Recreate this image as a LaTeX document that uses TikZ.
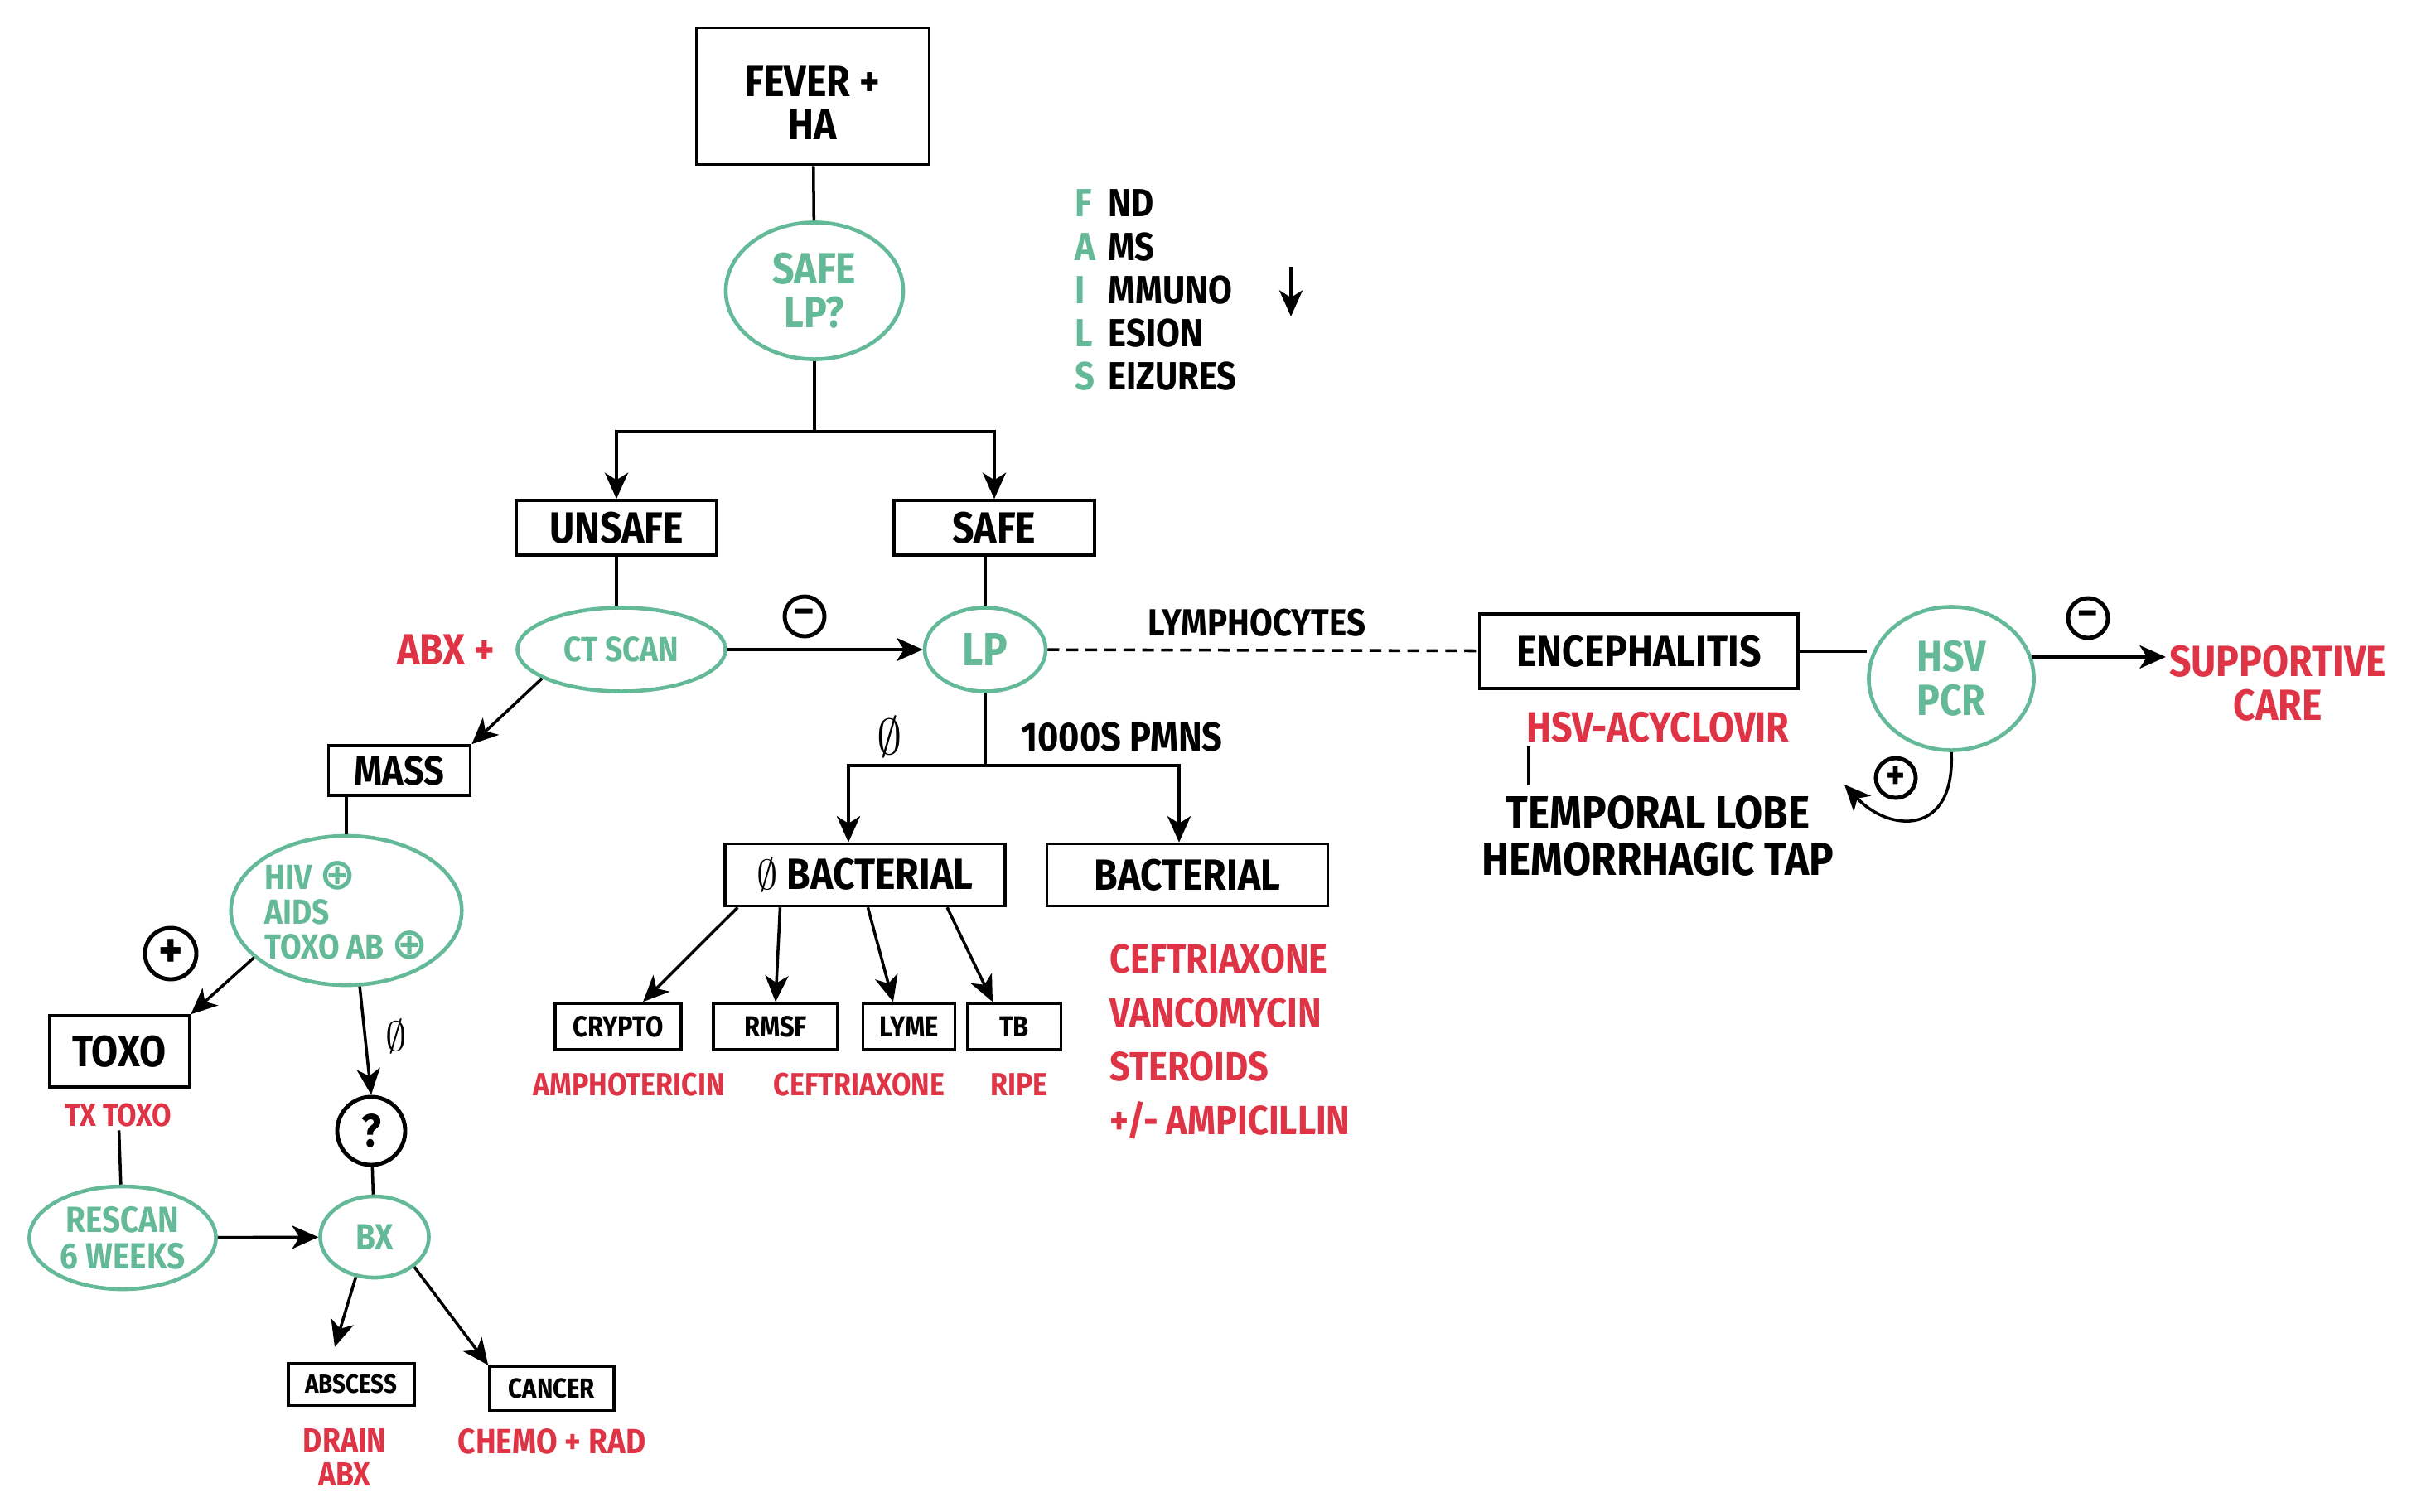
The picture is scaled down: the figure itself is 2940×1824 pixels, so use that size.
\documentclass[tikz,border=0pt]{standalone}
\usepackage{fontspec}
\setmainfont{Fira Sans}[FakeStretch=0.88]
\newfontfamily\symfont{DejaVu Sans}
\usepackage{tikz}
\usetikzlibrary{positioning}
\usetikzlibrary{calc}
\usetikzlibrary{arrows.meta}
\usetikzlibrary{shapes}
\definecolor{red}{RGB}{222,52,69}
\definecolor{green}{RGB}{100,186,152}
\newcommand{\lett}[1]{\makebox[0.4cm][l]{\textcolor{green}{#1}}}
\newcommand{\gplus}{{\symfont\fontsize{15}{12}\selectfont ⊕}}

\begin{document}
\begin{tikzpicture}[x=0.01cm, y=-0.01cm,
        >={Stealth[length=9pt, width=8pt, inset=2.5pt]},
        fs/.style={font=\fontsize{#1}{#1}\selectfont\bfseries},
        box/.style={draw, line width=1, align=center, inner sep=0pt},
        test/.style={draw=green, line width=1.3, ellipse, text=green, align=center, inner sep=0pt},
        sign/.style={draw, circle, line width=1.4, inner sep=0pt, fs=14},
        rx/.style={text=red, align=center, inner sep=1pt},
        conn/.style={line width=1}]
        \useasboundingbox (0,0) rectangle (2940,1824);
        % nodes %
        \node[box, fs=15, minimum width=2.81cm, minimum height=1.65cm] (fever) at (981,116) {\rule{0pt}{15pt}FEVER +\\HA};
        \node[test, fs=15, minimum width=2.14cm, minimum height=1.65cm] (safelp) at (983,351) {SAFE\\LP?};
        \node[anchor=west, inner sep=0pt, align=left, font=\fontsize{13.5}{14.8}\selectfont\bfseries] (fails) at (1297,350)
            {\lett{F}ND\\\lett{A}MS\\\lett{I}MMUNO\\\lett{L}ESION\\\lett{S}EIZURES};
        \node[box, fs=15, minimum width=2.42cm, minimum height=0.66cm] (unsafe) at (744,637) {UNSAFE};
        \node[box, fs=15, minimum width=2.42cm, minimum height=0.66cm] (safe) at (1200,637) {SAFE};
        \node[test, fs=12, minimum width=2.51cm, minimum height=1.01cm] (ctscan) at (750,784) {CT SCAN};
        \node[rx, fs=15] (abx) at (538,784) {ABX +};
        \node[sign, minimum size=0.48cm] (neg1) at (971,744) {--};
        \node[test, fs=16, minimum width=1.46cm, minimum height=1.01cm] (lp) at (1189,784) {LP};
        \node[fs=13] (lymph) at (1517,752) {LYMPHOCYTES};
        \node[box, fs=15, minimum width=3.84cm, minimum height=0.9cm] (enceph) at (1978,786) {ENCEPHALITIS};
        \node[test, fs=15, minimum width=1.99cm, minimum height=1.73cm] (hsvpcr) at (2355,819) {HSV\\PCR};
        \node[sign, minimum size=0.48cm] (neg2) at (2520,746) {--};
        \node[rx, fs=15] (support) at (2749,825) {SUPPORTIVE\\CARE};
        \node[rx, fs=14.5] (acyclovir) at (2001,878) {HSV-ACYCLOVIR};
        \node[fs=16, align=center] (temporal) at (2001,1009) {TEMPORAL LOBE\\HEMORRHAGIC TAP};
        \node[sign, minimum size=0.48cm] (pos2) at (2288,939) {+};
        \node[font=\fontsize{16}{16}\selectfont] (noresp) at (1074,889) {$\emptyset$};
        \node[fs=14] (pmns) at (1354,889) {1000S PMNS};
        \node[box, fs=15, minimum width=3.38cm, minimum height=0.75cm] (nobact) at (1044,1056) {$\emptyset$ BACTERIAL};
        \node[box, fs=15, minimum width=3.39cm, minimum height=0.75cm] (bact) at (1433,1056) {BACTERIAL};
        \node[box, fs=10, minimum width=1.52cm, minimum height=0.56cm] (crypto) at (746,1239) {CRYPTO};
        \node[box, fs=10, minimum width=1.5cm, minimum height=0.56cm] (rmsf) at (936,1239) {RMSF};
        \node[box, fs=10, minimum width=1.11cm, minimum height=0.56cm] (lyme) at (1097,1239) {LYME};
        \node[box, fs=10, minimum width=1.13cm, minimum height=0.56cm] (tb) at (1224,1239) {TB};
        \node[rx, fs=11] (amph) at (759,1309) {AMPHOTERICIN};
        \node[rx, fs=11] (ceft) at (1037,1309) {CEFTRIAXONE};
        \node[rx, fs=11] (ripe) at (1230,1309) {RIPE};
        \node[rx, anchor=west, align=left, inner sep=0pt, font=\fontsize{14}{18.5}\selectfont\bfseries] (bactrx) at (1339,1257)
            {CEFTRIAXONE\\VANCOMYCIN\\STEROIDS\\+/-{ }AMPICILLIN};
        \node[box, fs=14, minimum width=1.71cm, minimum height=0.6cm] (mass) at (482,930) {MASS};
        \node[test, fs=12, align=left, minimum width=2.74cm, minimum height=1.8cm] (hiv) at (418,1099)
            {HIV \gplus\\AIDS\\TOXO AB \gplus};
        \node[sign, fs=18, minimum size=0.62cm] (pos1) at (206,1151) {+};
        \node[box, fs=15, minimum width=1.69cm, minimum height=0.86cm] (toxo) at (144,1269) {TOXO};
        \node[rx, fs=11] (txtoxo) at (143,1346) {TX TOXO};
        \node[font=\fontsize{14}{14}\selectfont] (nomass) at (478,1251) {$\emptyset$};
        \node[sign, fs=16, minimum size=0.82cm] (query) at (448,1365) {?};
        \node[test, fs=12.5, minimum width=2.25cm, minimum height=1.24cm] (rescan) at (148,1494) {RESCAN\\6 WEEKS};
        \node[test, fs=12.5, minimum width=1.31cm, minimum height=0.98cm] (bx) at (452,1493) {BX};
        \node[box, fs=9, minimum width=1.52cm, minimum height=0.51cm] (abscess) at (424,1671) {ABSCESS};
        \node[box, fs=9.5, minimum width=1.5cm, minimum height=0.53cm] (cancer) at (666,1676) {CANCER};
        \node[rx, fs=11.5] (drain) at (416,1759) {DRAIN\\ABX};
        \node[rx, fs=12] (chemo) at (666,1740) {CHEMO + RAD};
        \coordinate (split1) at (983,521);
        \coordinate (split2) at (1189,924);
        \coordinate (dn1) at (1558,322);
        \coordinate (dn2) at (1558,382);
        \coordinate (tip) at (2226,947);
        % edges %
        \draw[conn] (fever) -- (safelp);
        \draw[conn] (safelp) -- (split1);
        \draw[->, conn] (split1) -| (unsafe.north);
        \draw[->, conn] (split1) -| (safe.north);
        \draw[->, conn] (dn1) -- (dn2);
        \draw[conn] (unsafe.south) -- (unsafe.south |- ctscan.north);
        \draw[->, conn] (ctscan) -- (lp);
        \draw[conn] (safe.south -| lp.north) -- (lp.north);
        \draw[conn, dash pattern=on 4pt off 2.5pt] (lp) -- (enceph);
        \draw[conn] (enceph.east) -- (enceph.east -| hsvpcr.west);
        \draw[->, conn] (hsvpcr.15) -- (support.west |- hsvpcr.15);
        \draw[->, conn] (hsvpcr.south) .. controls (2360,1010) and (2280,1005) .. (tip);
        \draw[conn] ([xshift=-1.56cm]acyclovir.south) -- ([xshift=-1.56cm]acyclovir.south |- temporal.north);
        \draw[conn] (lp) -- (split2);
        \draw[->, conn] (split2) -| ([xshift=-0.2cm]nobact.north);
        \draw[->, conn] (split2) -| ([xshift=-0.1cm]bact.north);
        \draw[->, conn] ($(nobact.south west)!0.05!(nobact.south east)$) -- ([xshift=0.3cm]crypto.north);
        \draw[->, conn] ($(nobact.south west)!0.2!(nobact.south east)$) -- (rmsf.north);
        \draw[->, conn] ($(nobact.south west)!0.51!(nobact.south east)$) -- ([xshift=-0.19cm]lyme.north);
        \draw[->, conn] ($(nobact.south west)!0.79!(nobact.south east)$) -- ([xshift=-0.26cm]tb.north);
        \draw[->, conn] (ctscan.200) -- (mass.north east);
        \draw[conn] (mass.south -| hiv.north) -- (hiv.north);
        \draw[->, conn] (hiv.207) -- (toxo.north east);
        \draw[->, conn] (hiv.-80) -- (query.north);
        \draw[conn] (query) -- (bx);
        \draw[conn] (txtoxo) -- (rescan);
        \draw[->, conn] (rescan) -- (bx);
        \draw[->, conn] (bx.245) -- ([xshift=-0.2cm, yshift=0.18cm]abscess.north);
        \draw[->, conn] (bx.-37) -- (cancer.north west);
\end{tikzpicture}
\end{document}
